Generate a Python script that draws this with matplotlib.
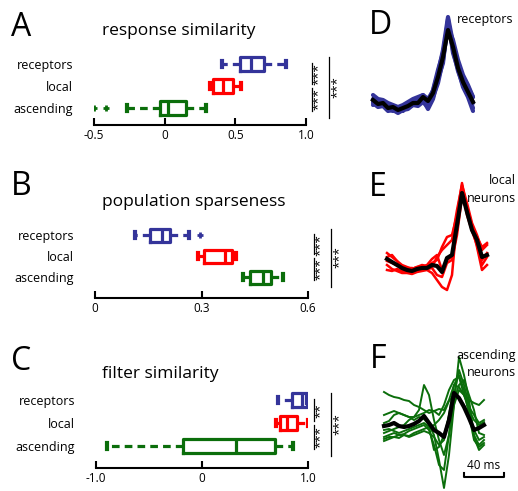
"""Boxplots of similarity / sparseness plus example filter traces (panels A-F)."""

import matplotlib
matplotlib.use('Agg')
import matplotlib.pyplot as plt
import matplotlib.transforms as mtransforms

plt.rcParams['font.family'] = ['Open Sans', 'DejaVu Sans']

W, H = 518, 491

BLUE = '#34349a'
RED = '#ff0000'
GREEN = '#0b6e0b'
GROUP_COLORS = [GREEN, RED, BLUE]          # ascending, local, receptors (bottom -> top)
GROUP_LABELS = ['ascending', 'local', 'receptors']

# ---- box statistics, order: ascending, local, receptors ----
resp_q1 = [-0.03, 0.34, 0.53]
resp_med = [0.025, 0.41, 0.61]
resp_q3 = [0.15, 0.48, 0.70]
resp_lo = [-0.27, 0.32, 0.405]
resp_hi = [0.29, 0.54, 0.86]
resp_fliers = [[-0.5, -0.415], [], []]

spars_q1 = [0.438, 0.307, 0.155]
spars_med = [0.473, 0.366, 0.19]
spars_q3 = [0.495, 0.387, 0.211]
spars_lo = [0.418, 0.29, 0.113]
spars_hi = [0.53, 0.397, 0.265]
spars_fliers = [[], [], [0.296]]

filt_q1 = [-0.18, 0.74, 0.85]
filt_med = [0.32, 0.80, 0.94]
filt_q3 = [0.69, 0.90, 0.99]
filt_lo = [-0.90, 0.70, 0.72]
filt_hi = [0.86, 1.0, 0.99]
filt_fliers = [[], [], []]

# ---- example filters (time in ms, amplitude in a.u.) ----
t_ms = [0, 5, 10, 15, 20, 25, 30, 35, 40, 45, 50, 55, 60, 65, 70, 75, 80, 85, 90, 95, 100]

rec_mean = [5, 1, 2, -3, -2, -5, -3, -1, 2, 2, 8, 4, 12, 28, 48, 75, 58, 37, 23, 13, 3]
rec_cells = [
    [10, 6, 5, 2, 0, -2, 0, 3, 6, 8, 10, 6, 14, 32, 55, 88, 62, 40, 28, 18, 8],
    [2, -2, -1, -6, -5, -8, -5, -4, 0, -1, 3, -2, 8, 22, 45, 80, 60, 42, 26, 16, 2],
    [6, 4, 0, -2, -4, -3, -6, 0, 4, 5, 6, 0, 10, 30, 50, 84, 55, 34, 20, 10, -3],
    [0, 2, 4, -1, -2, -6, -2, -2, 0, 4, 10, 2, 15, 35, 52, 78, 65, 45, 30, 20, 8],
    [4, 0, 0, -4, -6, -4, -4, 1, 2, 0, 5, -4, 6, 26, 42, 86, 52, 36, 18, 8, -6],
]

loc_mean = [6, 3, 0, -3, -5, -6, -4, -3, -3, 0, -1, -7, 7, 10, 40, 72, 53, 35, 25, 8, 10]
loc_cells = [
    [12, 8, 4, 0, -2, -4, -2, 0, -1, 2, 5, 18, 28, 30, 50, 82, 55, 38, 28, 18, 22],
    [0, -4, -6, -8, -8, -9, -7, -6, -5, -8, -15, -22, -25, -10, 45, 78, 58, 40, 28, 5, 12],
    [8, 10, 4, -2, -3, -3, -4, -2, 0, 6, 10, -5, 5, 8, 35, 75, 50, 34, 20, 0, 8],
    [-5, -6, -4, -6, -7, -8, -6, -5, -4, -3, -10, -12, 2, 5, 30, 68, 56, 38, 18, -5, 0],
    [4, 2, 0, -1, -3, -4, -2, -2, -4, -2, 8, 15, 20, 25, 55, 80, 62, 42, 30, 15, 20],
]

asc_mean = [-1, 0, 2, -1, -2, -1, 1, 4, 9, 2, -5, -8, -12, 5, 32, 27, 18, 7, -5, -3, 0]
asc_cells = [
    [33, 30, 28, 27, 25, 24, 20, 18, 15, 12, 14, 16, 15, 25, 40, 38, 30, 25, 22, 20, 25],
    [-8, -6, -4, -2, 0, 5, 8, 15, 40, 30, 5, -15, -30, -10, 20, 35, 30, 15, 5, 0, 3],
    [2, 4, 10, 12, 10, 8, 5, 8, 6, 0, -10, -35, -63, -30, 20, 68, 50, 25, -10, -20, -15],
    [-12, -10, -8, -10, -9, -6, -4, -2, 0, -5, -20, -40, -45, -10, 30, 55, 40, 20, -12, -25, -20],
    [-14, -12, -12, -10, -10, -12, -10, -8, -6, -8, -12, -20, -15, 10, 40, 50, 35, 10, -15, -22, -18],
    [10, 12, 14, 12, 10, 8, 8, 10, 12, 15, 14, 10, 20, 35, 45, 48, 30, 18, 10, 2, 5],
    [-5, -4, -6, -8, -6, -4, -2, 0, 2, -2, -25, -22, -10, 8, 25, 40, 45, 30, 15, -8, -10],
    [-16, -14, -12, -13, -10, -11, -8, -6, -4, -2, 0, 5, 12, 24, 30, 28, 20, 10, -5, -15, -12],
]

fig = plt.figure(figsize=(W / 100, H / 100), dpi=100)


def px_axes(left, top, right, bottom):
    return fig.add_axes([left / W, 1 - bottom / H, (right - left) / W, (bottom - top) / H])


def ftext(x, y, s, **kw):
    fig.text(x / W, 1 - y / H, s, **kw)


def box_panel(ax, q1, med, q3, lo, hi, fliers, ticks, ticklabels, ylim, stars):
    stats = [dict(q1=a, med=m, q3=b, whislo=l, whishi=h, fliers=f)
             for a, m, b, l, h, f in zip(q1, med, q3, lo, hi, fliers)]
    art = ax.bxp(stats, positions=[1, 2, 3], orientation='horizontal', widths=0.62,
                 capwidths=0.28, patch_artist=False)
    for i, c in enumerate(GROUP_COLORS):
        art['boxes'][i].set(color=c, linewidth=2.3, solid_joinstyle='round')
        art['medians'][i].set(color=c, linewidth=2.3)
        for k in (2 * i, 2 * i + 1):
            art['whiskers'][k].set(color=c, linewidth=2.3, linestyle=(0, (2.4, 1.6)))
            art['caps'][k].set(color=c, linewidth=3)
        art['fliers'][i].set(marker='+', markeredgecolor=c, markersize=5, markeredgewidth=2)
    ax.set_xlim(ticks[0], ticks[-1])
    ax.set_ylim(*ylim)
    ax.set_xticks(ticks)
    ax.set_xticklabels(ticklabels)
    ax.set_yticks([1, 2, 3])
    ax.set_yticklabels(GROUP_LABELS)
    ax.tick_params(axis='y', length=0, pad=15, labelsize=9)
    ax.tick_params(axis='x', direction='in', length=5, width=1.5, labelsize=8.5, pad=3)
    for s in ('top', 'right', 'left'):
        ax.spines[s].set_visible(False)
    ax.spines['bottom'].set_linewidth(1.5)
    ax.patch.set_alpha(0)

    # significance brackets
    tr = mtransforms.blended_transform_factory(ax.transAxes, ax.transData)
    ax.plot([1.028, 1.028], [3.05, 2.1], color='k', lw=0.9, transform=tr, clip_on=False)
    ax.plot([1.028, 1.028], [1.9, 0.85], color='k', lw=0.9, transform=tr, clip_on=False)
    ax.plot([1.11, 1.11], [3.3, 0.55], color='k', lw=0.9, transform=tr, clip_on=False)
    ax.text(1.058, 2.55, stars[0], rotation=90, ha='center', va='center', fontsize=9.5, transform=tr)
    ax.text(1.058, 1.38, stars[1], rotation=90, ha='center', va='center', fontsize=9.5, transform=tr)
    ax.text(1.145, 1.95, stars[2], rotation=90, ha='center', va='center', fontsize=9.5, transform=tr)


axA = px_axes(94, 55, 306, 125)
box_panel(axA, resp_q1, resp_med, resp_q3, resp_lo, resp_hi, resp_fliers,
          [-0.5, 0, 0.5, 1.0], ['-0.5', '0', '0.5', '1.0'], (0.23, 3.4), ['***', '***', '***'])
axB = px_axes(95, 227, 308, 298)
box_panel(axB, spars_q1, spars_med, spars_q3, spars_lo, spars_hi, spars_fliers,
          [0, 0.3, 0.6], ['0', '0.3', '0.6'], (0.0, 3.4), ['***', '***', '***'])
axC = px_axes(96, 391, 308, 468)
box_panel(axC, filt_q1, filt_med, filt_q3, filt_lo, filt_hi, filt_fliers,
          [-1.0, 0, 1.0], ['-1.0', '0', '1.0'], (0.04, 3.4), ['**', '***', '***'])

ftext(102, 31, 'response similarity', fontsize=12.5, ha='left', va='center')
ftext(102, 202, 'population sparseness', fontsize=12.5, ha='left', va='center')
ftext(102, 374, 'filter similarity', fontsize=12.5, ha='left', va='center')

for letter, x, y in [('A', 11, 28), ('B', 11, 187), ('C', 11, 361),
                     ('D', 369, 26), ('E', 369, 188), ('F', 370, 360)]:
    ftext(x, y, letter, fontsize=23, ha='left', va='center')

# ---- example traces ----
axD = px_axes(368, 5, 480, 125)
for tr_ in rec_cells:
    axD.plot(t_ms, tr_, color=BLUE, lw=3, solid_capstyle='round')
axD.plot(t_ms, rec_mean, color='k', lw=3)
axD.set_xlim(-5, 107)
axD.set_ylim(-20, 100)

axE = px_axes(382, 175, 494, 300)
for tr_ in loc_cells:
    axE.plot(t_ms, tr_, color=RED, lw=1.8)
axE.plot(t_ms, loc_mean, color='k', lw=3)
axE.set_xlim(-5, 107)
axE.set_ylim(-35, 90)

axF = px_axes(379, 345, 491, 491)
for tr_ in asc_cells:
    axF.plot(t_ms, tr_, color=GREEN, lw=1.4)
axF.plot(t_ms, asc_mean, color='k', lw=3)
axF.set_xlim(-5, 107)
axF.set_ylim(-66, 80)
# 40 ms scale bar
axF.plot([80, 80, 120, 120], [-48, -52, -52, -48], color='k', lw=1.5, clip_on=False)
axF.text(100, -47, '40 ms', ha='center', va='bottom', fontsize=8.5, clip_on=False)

for ax in (axD, axE, axF):
    ax.axis('off')

ftext(457, 20, 'receptors', fontsize=9, ha='left', va='center')
ftext(516, 181, 'local', fontsize=9, ha='right', va='center')
ftext(516, 198, 'neurons', fontsize=9, ha='right', va='center')
ftext(516, 355, 'ascending', fontsize=9, ha='right', va='center')
ftext(516, 373, 'neurons', fontsize=9, ha='right', va='center')

fig.savefig('out.png', dpi=100)
